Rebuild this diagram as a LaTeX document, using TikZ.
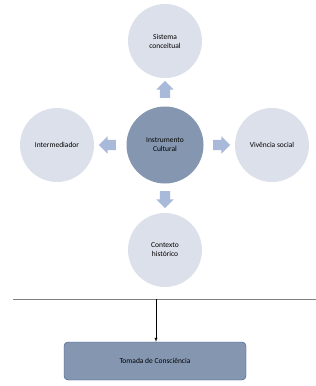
\documentclass[tikz,border=0pt]{standalone}
\usepackage{fontspec}
\setmainfont{Carlito}
\usepackage{xcolor}
\usetikzlibrary{shapes.arrows, arrows}

\definecolor{outercirc}{HTML}{DCE0EA}
\definecolor{innercirc}{HTML}{8597B0}
\definecolor{blockarr}{HTML}{A9B9D9}
\definecolor{boxedge}{HTML}{2F4E8C}

\begin{document}
\begin{tikzpicture}
				[x=1pt, y=-1pt, font=\fontsize{7.5}{9}\selectfont,
				outer/.style = {circle, fill=outercirc, minimum size=74pt, align=center, inner sep=0pt},
				bigarr/.style = {single arrow, fill=blockarr, minimum height=17pt, minimum width=17pt,
					single arrow head extend=3.5pt, inner sep=5pt}]
				\useasboundingbox (0,0) rectangle (316,386);
				\node[outer] (v0) at (165,41) {Sistema\\conceitual};
				\node[outer] (v1) at (57,145) {Intermediador};
				\node[outer] (v2) at (272,145) {Viv\^encia social};
				\node[outer] (v3) at (165,250) {Contexto\\hist\'orico};
				\node[circle, fill=innercirc, minimum size=77pt, align=center, inner sep=0pt] (v4) at (165,145) {Instrumento\\Cultural};
				\node[bigarr, shape border rotate=90] (a0) at (165,92) {};
				\node[bigarr, shape border rotate=180] (a1) at (110,145) {};
				\node[bigarr, shape border rotate=0] (a2) at (219,145) {};
				\node[bigarr, shape border rotate=270] (a3) at (165,197) {};
				\coordinate (l0) at (13,299);
				\coordinate (l1) at (316,299);
				\coordinate (l2) at (156,299);
				\draw[gray, thick] (l0)--(l1);
				\node[rounded corners=4pt, draw=boxedge, fill=innercirc, minimum width=182pt, minimum height=38pt] (b0) at (155,361) {Tomada de Consci\^encia};
				\draw[-latex] (l2)--(b0.north-|l2);
			\end{tikzpicture}
\end{document}
